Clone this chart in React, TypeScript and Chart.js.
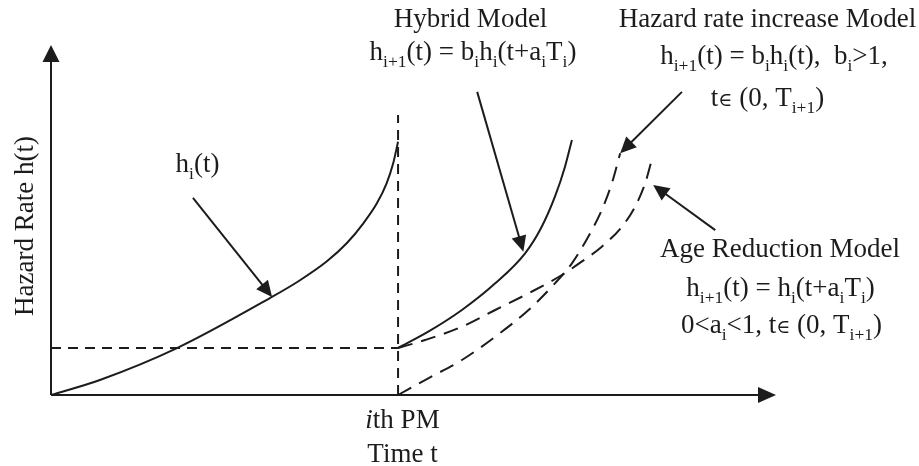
import React, { useEffect, useRef } from "react";
import { Chart, registerables } from "chart.js";

Chart.register(...registerables);

// ---- Data (x: time, PM at t = 1; y: hazard rate) ----
const hiTime = [0, 0.141, 0.363, 0.631, 0.713, 0.795, 0.852, 0.9, 0.939, 0.967, 0.986, 1.0];
const hiRate = [0, 0.43, 1.34, 2.77, 3.25, 3.82, 4.334, 4.906, 5.477, 6.049, 6.62, 7.237];

const hybridTime = [1.0, 1.087, 1.184, 1.28, 1.366, 1.414, 1.452, 1.481, 1.501];
const hybridRate = [1.343, 1.809, 2.429, 3.191, 4.049, 4.809, 5.666, 6.523, 7.286];

const ageTime = [1.0, 1.078, 1.184, 1.28, 1.376, 1.472, 1.529, 1.587, 1.645, 1.683, 1.712, 1.731];
const ageRate = [1.343, 1.571, 1.951, 2.429, 2.906, 3.429, 3.809, 4.237, 4.809, 5.38, 6.049, 6.714];

const incTime = [1.0, 1.087, 1.184, 1.28, 1.376, 1.452, 1.501, 1.548, 1.587, 1.616, 1.64];
const incRate = [0, 0.477, 1.0, 1.666, 2.429, 3.191, 3.763, 4.523, 5.286, 6.049, 6.906];

const pmTime = 1;
const pmLevel = 1.343;
const pmLineTop = 8.0;
const xMax = 2.089;
const yMax = 10;

// callout arrows: start point and tip point (data units)
const calloutFrom = [
  [0.409, 5.63],
  [1.228, 8.66],
  [1.818, 8.66],
  [1.914, 4.71],
];
const calloutTip = [
  [0.637, 2.8],
  [1.361, 4.09],
  [1.64, 6.91],
  [1.735, 6.0],
];

// text labels
const labelTexts = [
  "Hybrid Model",
  "h_{i+1}(t) = b_{i}h_{i}(t+a_{i}T_{i})",
  "Hazard rate increase Model",
  "h_{i+1}(t) = b_{i}h_{i}(t),  b_{i}>1,",
  "t~{\u2208} (0, T_{i+1})",
  "Age Reduction Model",
  "h_{i+1}(t) = h_{i}(t+a_{i}T_{i})",
  "0<a_{i}<1, t~{\u2208} (0, T_{i+1})",
  "h_{i}(t)",
  "*i*th PM",
  "Time t",
];
// [centerX(px), baselineY(px)]
const labelPos = [
  [470.5, 27],
  [473, 60],
  [767.5, 27],
  [774, 64],
  [767.5, 106],
  [780, 257],
  [780.5, 296],
  [781.5, 333],
  [197.5, 172],
  [402.5, 428],
  [402.5, 462],
];
const yTitle = "Hazard Rate h(t)";

const FONT = "'Liberation Serif', 'Times New Roman', serif";
const MAIN = 27;
const SUB = 17.5;
const INK = "#1c1c1c";

type Seg = { t: string; sub: boolean; it: boolean; sym: boolean };
function parse(s: string): Seg[] {
  const out: Seg[] = [];
  let buf = "";
  let it = false;
  let i = 0;
  const flush = () => {
    if (buf) out.push({ t: buf, sub: false, it, sym: false });
    buf = "";
  };
  while (i < s.length) {
    if ((s[i] === "_" || s[i] === "~") && s[i + 1] === "{") {
      flush();
      const end = s.indexOf("}", i);
      out.push({ t: s.slice(i + 2, end), sub: s[i] === "_", it, sym: s[i] === "~" });
      i = end + 1;
    } else if (s[i] === "*") {
      flush();
      it = !it;
      i++;
    } else {
      buf += s[i];
      i++;
    }
  }
  flush();
  return out;
}

function segFont(sg: Seg) {
  if (sg.sym) return `19px 'DejaVu Serif', serif`;
  return `${sg.it ? "italic " : ""}${sg.sub ? SUB : MAIN}px ${FONT}`;
}

function drawRich(ctx: CanvasRenderingContext2D, s: string, cx: number, by: number) {
  const segs = parse(s);
  let w = 0;
  const widths = segs.map((sg) => {
    ctx.font = segFont(sg);
    const m = ctx.measureText(sg.t).width;
    w += m;
    return m;
  });
  let x = cx - w / 2;
  ctx.textAlign = "left";
  ctx.textBaseline = "alphabetic";
  segs.forEach((sg, k) => {
    ctx.font = segFont(sg);
    ctx.fillText(sg.t, x, by + (sg.sub ? 7 : 0));
    x += widths[k];
  });
}

function head(ctx: CanvasRenderingContext2D, x1: number, y1: number, x2: number, y2: number, len: number, hw: number) {
  const a = Math.atan2(y2 - y1, x2 - x1);
  const c = Math.cos(a);
  const s = Math.sin(a);
  ctx.beginPath();
  ctx.moveTo(x2, y2);
  ctx.lineTo(x2 - len * c + hw * s, y2 - len * s - hw * c);
  ctx.lineTo(x2 - len * c - hw * s, y2 - len * s + hw * c);
  ctx.closePath();
  ctx.fill();
}

const pts = (xs: number[], ys: number[]) => xs.map((x, i) => ({ x, y: ys[i] }));

const decorPlugin = {
  id: "decor",
  afterDatasetsDraw(chart: any) {
    const ctx: CanvasRenderingContext2D = chart.ctx;
    const xs = chart.scales.x;
    const ys = chart.scales.y;
    const px = (v: number) => xs.getPixelForValue(v);
    const py = (v: number) => ys.getPixelForValue(v);
    ctx.save();
    ctx.fillStyle = INK;
    ctx.strokeStyle = INK;
    // axis arrowheads
    head(ctx, px(0), py(0), px(0), py(yMax), 17, 8.5);
    head(ctx, px(0), py(0), px(xMax), py(0), 18, 8);
    // callouts
    ctx.lineWidth = 2;
    calloutFrom.forEach((f, k) => {
      const t = calloutTip[k];
      const x1 = px(f[0]);
      const y1 = py(f[1]);
      const x2 = px(t[0]);
      const y2 = py(t[1]);
      const a = Math.atan2(y2 - y1, x2 - x1);
      ctx.beginPath();
      ctx.moveTo(x1, y1);
      ctx.lineTo(x2 - 12 * Math.cos(a), y2 - 12 * Math.sin(a));
      ctx.stroke();
      head(ctx, x1, y1, x2, y2, 16, 7.5);
    });
    // labels
    labelTexts.forEach((s, k) => drawRich(ctx, s, labelPos[k][0], labelPos[k][1]));
    // y title
    ctx.translate(33, 226);
    ctx.rotate(-Math.PI / 2);
    drawRich(ctx, yTitle, 0, 0);
    ctx.restore();
  },
};

export default function App() {
  const ref = useRef<HTMLCanvasElement>(null);
  useEffect(() => {
    if (!ref.current) return;
    const solid = { borderColor: INK, borderWidth: 2, pointRadius: 0, showLine: true, fill: false, clip: false as any };
    const chart = new Chart(ref.current, {
      type: "scatter",
      data: {
        datasets: [
          { ...solid, label: "h_i(t)", data: pts(hiTime, hiRate), cubicInterpolationMode: "monotone" },
          { ...solid, label: "Hybrid", data: pts(hybridTime, hybridRate), cubicInterpolationMode: "monotone" },
          { ...solid, label: "Age reduction", data: pts(ageTime, ageRate), cubicInterpolationMode: "monotone", borderDash: [15, 9] },
          { ...solid, label: "Hazard rate increase", data: pts(incTime, incRate), cubicInterpolationMode: "monotone", borderDash: [15, 9] },
          { ...solid, label: "level", data: [{ x: 0, y: pmLevel }, { x: pmTime, y: pmLevel }], borderDash: [10, 7] },
          { ...solid, label: "PM", data: [{ x: pmTime, y: 0 }, { x: pmTime, y: pmLineTop }], borderDash: [10, 7] },
          { ...solid, label: "x axis", data: [{ x: 0, y: 0 }, { x: xMax - 0.03, y: 0 }] },
          { ...solid, label: "y axis", data: [{ x: 0, y: 0 }, { x: 0, y: yMax - 0.3 }] },
        ] as any,
      },
      options: {
        animation: false,
        responsive: false,
        devicePixelRatio: 1,
        layout: { padding: { left: 51, right: 143, top: 45, bottom: 71 } },
        plugins: { legend: { display: false }, tooltip: { enabled: false } },
        events: [],
        scales: {
          x: { type: "linear", min: 0, max: xMax, display: false },
          y: { type: "linear", min: 0, max: yMax, display: false },
        },
      },
      plugins: [decorPlugin],
    });
    return () => chart.destroy();
  }, []);
  return (
    <div style={{ position: "absolute", left: 0, top: 0, width: 919, height: 466, background: "#fff" }}>
      <canvas ref={ref} width={919} height={466} />
    </div>
  );
}
